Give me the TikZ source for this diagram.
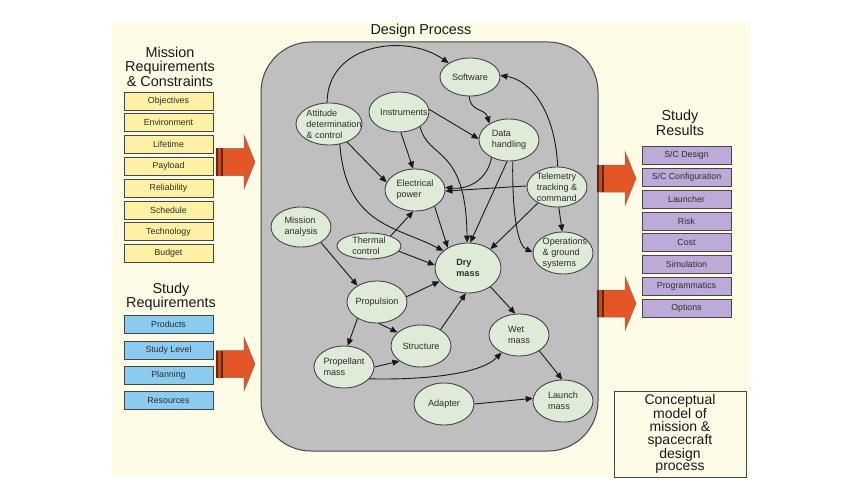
\documentclass[tikz,border=0pt]{standalone}
\usepackage{fontspec}
\setmainfont{Liberation Sans}
\usetikzlibrary{arrows.meta,shapes.geometric}
\definecolor{cream}{RGB}{254,252,230}
\definecolor{procgray}{RGB}{191,191,191}
\definecolor{ellfill}{RGB}{221,235,215}
\definecolor{yelbox}{RGB}{255,241,164}
\definecolor{bluebox}{RGB}{139,203,240}
\definecolor{purbox}{RGB}{190,170,216}
\definecolor{orangearr}{RGB}{228,86,38}
\definecolor{stripe}{RGB}{95,40,20}
\definecolor{edgegray}{RGB}{70,70,70}
\definecolor{txt}{RGB}{45,45,45}
\begin{document}
\begin{tikzpicture}[x=1pt,y=-1pt,
  ell/.style={ellipse, draw=edgegray, line width=0.9pt, fill=ellfill, inner sep=0pt},
  et/.style={font=\fontsize{9.1}{11.2}\selectfont, align=left, text=txt, inner sep=0pt},
  reqbox/.style={draw=edgegray, line width=0.8pt, minimum width=89pt, minimum height=18pt, inner sep=0pt, text=txt, font=\fontsize{8.8}{10}\selectfont},
  ybox/.style={reqbox, fill=yelbox},
  bbox/.style={reqbox, fill=bluebox},
  pbox/.style={reqbox, fill=purbox},
  title/.style={font=\fontsize{14.4}{14.5}\selectfont, align=center, text=black!90, inner sep=0pt},
  link/.style={-{Triangle[length=7pt,width=6pt]}, line width=0.9pt, draw=black!90},
  blockarr/.pic={
    \filldraw[fill=orangearr, draw=stripe!70, line width=0.5pt] (0,-13.5) -- (28,-13.5) -- (28,-27) -- (39,0) -- (28,27) -- (28,13.5) -- (0,13.5) -- cycle;
    \fill[stripe] (0,-13.5) rectangle (7,13.5);
    \fill[orangearr!75!stripe] (2.4,-13.5) rectangle (4.6,13.5);
  }
]
\useasboundingbox (0,0) rectangle (862,500);
\fill[cream] (112,22) rectangle (750,477);
\filldraw[fill=procgray, draw=edgegray, line width=1pt, rounded corners=50pt] (261,42) rectangle (598,451);

% titles
\node[title] (tdp) at (421,31) {Design Process};
\node[title] (tmr) at (170,66.5) {Mission\\Requirements\\\& Constraints};
\node[title, font=\fontsize{14.4}{13.8}\selectfont] (tsr) at (171,296.5) {Study\\Requirements};
\node[title, font=\fontsize{14.4}{15}\selectfont] (tres) at (680,122.5) {Study\\Results};
\node[draw=edgegray, line width=0.8pt, fill=cream, minimum width=132pt, minimum height=86pt, font=\fontsize{14}{12.8}\selectfont, align=center, text=black!90, inner sep=0pt] (concept) at (680,434) {Conceptual\\model of\\mission \&\\spacecraft\\design\\process};

% requirement boxes
\foreach \t [count=\i from 0] in {Objectives,Environment,Lifetime,Payload,Reliability,Schedule,Technology,Budget}
  \node[ybox] (mr\i) at (168.5,101+21.8*\i) {\t};
\foreach \t/\yy [count=\i from 0] in {Products/324,Study Level/350,Planning/375,Resources/400.5}
  \node[bbox] (sr\i) at (168.5,\yy) {\t};
\foreach \t [count=\i from 0] in {S/C Design,S/C Configuration,Launcher,Risk,Cost,Simulation,Programmatics,Options}
  \node[pbox] (res\i) at (686.5,155.5+21.8*\i) {\t};

% block arrows
\pic at (216,162) {blockarr};
\pic at (216,364) {blockarr};
\pic at (597,178.5) {blockarr};
\pic at (597,303.5) {blockarr};

% ellipses
\node[ell, minimum width=60pt, minimum height=38pt, label={[et]center:Software}] (sw) at (470,77) {};
\node[ell, minimum width=66pt, minimum height=42pt, label={[et, xshift=5pt]center:Attitude\\determination\\\& control}] (att) at (329,124) {};
\node[ell, minimum width=60pt, minimum height=40pt, label={[et, xshift=5pt]center:Instruments}] (ins) at (399,112) {};
\node[ell, minimum width=60pt, minimum height=42pt, label={[et]center:Data\\handling}] (dh) at (509,140) {};
\node[ell, minimum width=60pt, minimum height=42pt, label={[et]center:Electrical\\power}] (ep) at (415,190) {};
\node[ell, minimum width=60pt, minimum height=40pt, label={[et]center:Telemetry\\tracking \&\\command}] (tel) at (557,187) {};
\node[ell, minimum width=60pt, minimum height=40pt, label={[et]center:Mission\\analysis}] (ma) at (301,227) {};
\node[ell, minimum width=64pt, minimum height=26pt, label={[et]center:Thermal\\control}] (th) at (369,246) {};
\node[ell, minimum width=66pt, minimum height=50pt, label={[et, font=\bfseries\fontsize{9.1}{11.2}\selectfont]center:Dry\\mass}] (dm) at (468,268) {};
\node[ell, minimum width=60pt, minimum height=42pt, label={[et, xshift=2pt]center:Operations\\\& ground\\systems}] (ops) at (563,253) {};
\node[ell, minimum width=60pt, minimum height=42pt, label={[et]center:Propulsion}] (prop) at (377,302) {};
\node[ell, minimum width=60pt, minimum height=42pt, label={[et]center:Structure}] (str) at (421,346) {};
\node[ell, minimum width=60pt, minimum height=42pt, label={[et]center:Propellant\\mass}] (pm) at (344,367) {};
\node[ell, minimum width=60pt, minimum height=42pt, label={[et]center:Wet\\mass}] (wm) at (519,335) {};
\node[ell, minimum width=60pt, minimum height=42pt, label={[et]center:Adapter}] (ad) at (444,404) {};
\node[ell, minimum width=60pt, minimum height=42pt, label={[et]center:Launch\\mass}] (lm) at (563,401) {};

% connectors
\draw[link] (att.95) .. controls +(0,-58) and +(-44,-31) .. (sw.147);
\draw[link] (att.-45) -- (ep.165);
\draw[link] (att.-62) .. controls (346,225) and (395,226) .. (dm.145);
\draw[link] (ins.5) -- (dh.178);
\draw[link] (ins.-85) -- (ep.95);
\draw[link] (ins.-35) .. controls (428,160) and (466,145) .. (dm.92);
\draw[link] (sw.-92) .. controls (470,112) and (485,108) .. (dh.140);
\draw[link] (tel.88) .. controls (555,110) and (530,80) .. (sw.3);
\draw[link] (tel.178) -- (ep.-2);
\draw[link] (tel.-85) -- (ops.92);
\draw[link] (tel.-140) -- (dm.40);
\draw[link] (dh.-80) .. controls (512,215) and (518,246) .. (ops.178);
\draw[link] (dh.-135) .. controls (488,178) and (470,190) .. (ep.5);
\draw[link] (dh.-95) -- (dm.85);
\draw[link] (ep.-40) -- (dm.135);
\draw[link] (th.25) -- (ep.-95);
\draw[link] (th.-10) -- (dm.175);
\draw[link] (ma.-38) -- (prop.140);
\draw[link] (prop.10) -- (dm.-155);
\draw[link] (prop.-140) -- (pm.80);
\draw[link] (prop.-85) -- (str.150);
\draw[link] (pm.0) -- (str.-145);
\draw[link] (pm.-25) .. controls (420,380) and (480,375) .. (wm.-135);
\draw[link] (str.40) -- (dm.-95);
\draw[link] (dm.-40) -- (wm.100);
\draw[link] (wm.-38) -- (lm.92);
\draw[link] (ad.0) -- (lm.175);
\end{tikzpicture}
\end{document}
